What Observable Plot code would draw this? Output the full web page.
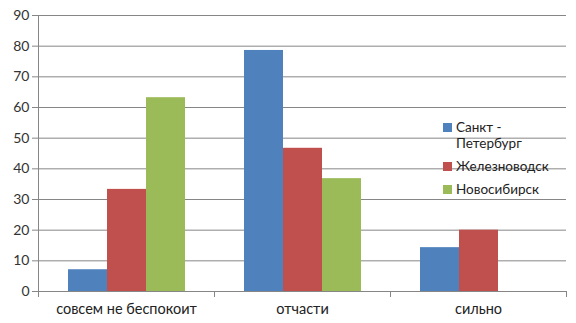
<!DOCTYPE html>
<html><head><meta charset="utf-8">
<script src="https://cdn.jsdelivr.net/npm/d3@7"></script>
<script src="https://cdn.jsdelivr.net/npm/@observablehq/plot@0.6"></script>
<style>
body{margin:0;background:#fff;font-family:Lato,"Liberation Sans",sans-serif}
#wrap{position:relative;width:576px;height:323px}
#legend{position:absolute;left:443px;top:119px;font-size:13.5px;color:#222;line-height:16px}
.item{display:flex;align-items:flex-start;margin-bottom:7px}
.sw{width:9px;height:9px;margin:4px 4px 0 0;flex:none}
.lab{width:104px}
</style></head><body><div id="wrap"><div id="legend"></div></div>
<script>
const categories = ["совсем не беспокоит", "отчасти", "сильно"];
const series = ["Санкт - Петербург", "Железноводск", "Новосибирск"];
const spb = [7.1, 78.6, 14.3];
const zheleznovodsk = [33.3, 46.7, 20];
const novosibirsk = [63.2, 36.8, 0];
const yTicks = [0, 10, 20, 30, 40, 50, 60, 70, 80, 90];
const colors = ["#4F81BD", "#C0504D", "#9BBB59"];

const seriesValues = [spb, zheleznovodsk, novosibirsk];
const rows = categories.flatMap((c, i) => series.map((s, j) => ({category: c, series: s, value: seriesValues[j][i]})));

const W = 576, H = 323, mT = 15, mB = 32, mL = 37, mR = 10;
const grey = "#868686";
const chart = Plot.plot({
  width: W, height: H, marginLeft: mL, marginRight: mR, marginTop: mT, marginBottom: mB,
  style: {fontFamily: "Lato, 'Liberation Sans', sans-serif", fontSize: "14px", color: "#333", background: "#fff"},
  fx: {domain: categories, padding: 0, label: null, axis: null},
  x: {domain: series, paddingInner: 0, paddingOuter: 0.74, axis: null},
  y: {domain: [0, 90], label: null, axis: null},
  color: {domain: series, range: colors},
  marks: [
    Plot.gridY({ticks: yTicks, stroke: grey, strokeOpacity: 1}),
    Plot.barY(rows, {fx: "category", x: "series", y: "value", fill: "series"}),
    Plot.ruleY([0], {stroke: grey}),
    Plot.axisY({ticks: yTicks, tickSize: 6, tickPadding: 3, stroke: grey, fill: "#333", fontSize: 14, label: null}),
    Plot.axisFx({anchor: "bottom", tickSize: 0, tickPadding: 12, label: null, fill: "#222", fontSize: 14.5}),
    Plot.frame({anchor: "left", facet: "super", stroke: grey, insetBottom: -5}),
    Plot.frame({anchor: "right", stroke: grey, insetTop: H - mT - mB, insetBottom: -5})
  ]
});
const wrap = document.getElementById("wrap");
wrap.insertBefore(chart, wrap.firstChild);

const legend = document.getElementById("legend");
series.forEach((s, j) => {
  const item = document.createElement("div");
  item.className = "item";
  const sw = document.createElement("div");
  sw.className = "sw";
  sw.style.background = colors[j];
  const lab = document.createElement("div");
  lab.className = "lab";
  lab.textContent = s;
  item.appendChild(sw); item.appendChild(lab);
  legend.appendChild(item);
});
</script>
</body></html>
